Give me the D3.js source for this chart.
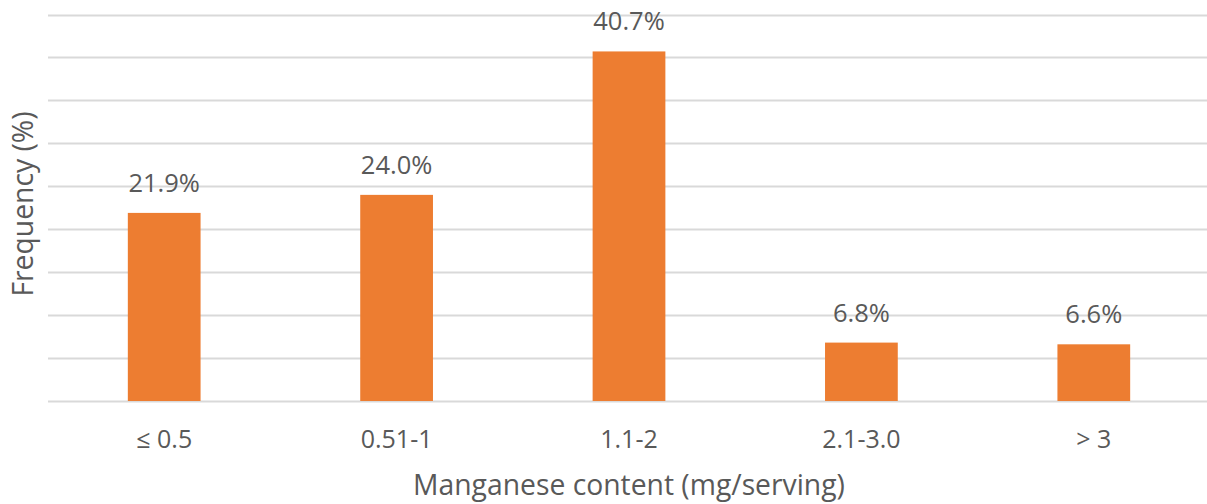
<!DOCTYPE html>
<html><head><meta charset="utf-8">
<script src="https://cdn.jsdelivr.net/npm/d3@7"></script>
<style>body{margin:0;background:#fff}svg{display:block}text{font-family:"Open Sans",sans-serif;fill:#595959}</style>
</head><body>
<svg id="c" width="1207" height="504"></svg>
<script>
const categories = ["≤ 0.5", "0.51-1", "1.1-2", "2.1-3.0", "> 3"];
const frequency = [21.9, 24.0, 40.7, 6.8, 6.6];
const gridTicks = [0, 5, 10, 15, 20, 25, 30, 35, 40, 45];
const labels = ["21.9%", "24.0%", "40.7%", "6.8%", "6.6%"];

const svg = d3.select("#c");
const x = d3.scaleBand().domain(categories).range([48, 1210]).paddingInner(0.687).paddingOuter(0.3435);
const y = d3.scaleLinear().domain([0, 45]).range([401, 14.5]);

svg.append("g").selectAll("line").data(gridTicks).join("line")
  .attr("x1", 48).attr("x2", 1207)
  .attr("y1", d => Math.round(y(d)) + 0.5).attr("y2", d => Math.round(y(d)) + 0.5)
  .attr("stroke", "#d9d9d9").attr("stroke-width", 2);

svg.append("g").selectAll("rect").data(frequency).join("rect")
  .attr("x", (d, i) => x(categories[i]))
  .attr("width", x.bandwidth())
  .attr("y", d => y(d))
  .attr("height", d => y(0) - y(d))
  .attr("fill", "#ED7D31");

svg.append("g").selectAll("text").data(frequency).join("text")
  .attr("x", (d, i) => x(categories[i]) + x.bandwidth() / 2)
  .attr("y", d => y(d) - 21)
  .attr("text-anchor", "middle").attr("font-size", 25.5)
  .text((d, i) => labels[i]);

const xAxis = svg.append("g").attr("transform", "translate(0,401)")
  .call(d3.axisBottom(x).tickSize(0).tickPadding(0));
xAxis.select(".domain").remove();
xAxis.selectAll("text").attr("y", 47).attr("dy", null).attr("font-size", 25)
  .style("font-family", '"Open Sans",sans-serif').style("fill", "#595959");

svg.append("text").attr("x", 629).attr("y", 495).attr("text-anchor", "middle")
  .attr("font-size", 28.3).text("Manganese content (mg/serving)");
svg.append("text").attr("transform", "translate(33,204) rotate(-90)")
  .attr("text-anchor", "middle").attr("font-size", 28.3).text("Frequency (%)");
</script>
</body></html>
